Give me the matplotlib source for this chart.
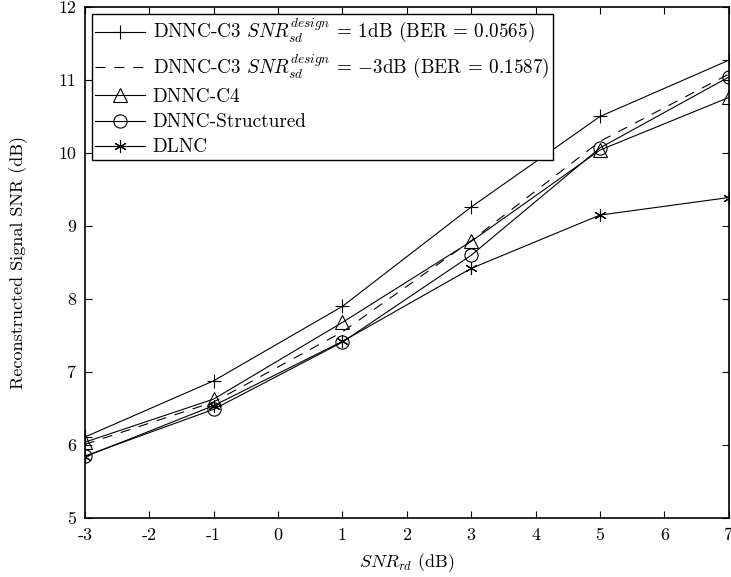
from matplotlib import pyplot as plt

plt.rcParams['font.family'] = 'serif'
plt.rcParams['font.serif'] = ['cmr10']
plt.rcParams['mathtext.fontset'] = 'cm'
plt.rcParams['axes.unicode_minus'] = False

# data
snr_rd = [-3, -1, 1, 3, 5, 7]
c3_1db = [6.11, 6.88, 7.90, 9.26, 10.50, 11.27]
c3_m3db = [6.01, 6.59, 7.55, 8.80, 10.16, 11.08]
c4 = [6.04, 6.63, 7.68, 8.79, 10.04, 10.76]
structured = [5.85, 6.49, 7.41, 8.60, 10.07, 11.04]
dlnc = [5.84, 6.54, 7.42, 8.42, 9.15, 9.39]

xticks = [-3, -2, -1, 0, 1, 2, 3, 4, 5, 6, 7]
yticks = [5, 6, 7, 8, 9, 10, 11, 12]

fig = plt.figure(figsize=(7.31, 5.77), dpi=100)
ax = fig.add_axes([0.116, 0.102, 0.881, 0.886])

lw = 0.8
ax.plot(snr_rd, c3_1db, 'k-', marker='+', ms=10, mew=0.8, lw=lw,
        label=r'DNNC-C3 $SNR_{sd}^{design}$ = 1dB (BER = 0.0565)')
ax.plot(snr_rd, c3_m3db, 'k--', lw=lw, dashes=(9, 8),
        label=r'DNNC-C3 $SNR_{sd}^{design}$ = $-$3dB (BER = 0.1587)')
ax.plot(snr_rd, c4, 'k-', marker='^', ms=9.5, mfc='none', mew=0.8, lw=lw,
        label='DNNC-C4')
ax.plot(snr_rd, structured, 'k-', marker='o', ms=9.5, mfc='none', mew=0.8, lw=lw,
        label='DNNC-Structured')
ax.plot(snr_rd, dlnc, 'k-', marker=(6, 2, 0), ms=9, mew=0.8, lw=lw,
        label='DLNC')

ax.set_xlim(-3, 7)
ax.set_ylim(5, 12)
ax.set_xticks(xticks)
ax.set_xticklabels([str(t) for t in xticks])
ax.set_yticks(yticks)
ax.set_yticklabels([str(t) for t in yticks])
ax.tick_params(direction='in', labelsize=13, length=5, top=True, right=True)
ax.tick_params(axis='x', pad=7)
ax.tick_params(axis='y', pad=6)
for s in ax.spines.values():
    s.set_linewidth(1.2)

ax.set_xlabel(r'$SNR_{rd}$ (dB)', fontsize=13, labelpad=6)
ax.set_ylabel('Reconstructed Signal SNR (dB)', fontsize=13, labelpad=22)

leg = ax.legend(loc='upper left', fontsize=13.8, fancybox=False, edgecolor='k',
                framealpha=1, borderaxespad=0.35, handlelength=2.6,
                labelspacing=0.38, borderpad=0.2, handletextpad=0.4)
leg.get_frame().set_linewidth(1.0)

plt.savefig('out.png', dpi=100)
